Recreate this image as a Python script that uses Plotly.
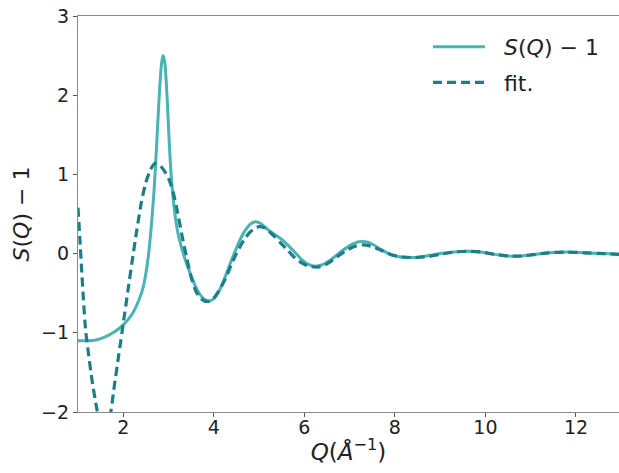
import plotly.graph_objects as go

# Measured structure factor S(Q) - 1
q_sq = [1.0, 1.2, 1.4, 1.6, 1.8, 2.0, 2.2, 2.35, 2.45, 2.55, 2.62, 2.68, 2.74, 2.80,
        2.85, 2.88, 2.92, 2.97, 3.02, 3.07, 3.13, 3.2, 3.3, 3.4, 3.5, 3.6, 3.7, 3.8,
        3.9, 4.0, 4.1, 4.2, 4.3, 4.4, 4.5, 4.6, 4.7, 4.8, 4.9, 5.0, 5.1, 5.2, 5.35,
        5.5, 5.65, 5.8, 5.95, 6.1, 6.25, 6.4, 6.6, 6.8, 7.0, 7.2, 7.35, 7.5, 7.7,
        7.9, 8.1, 8.4, 8.7, 9.0, 9.3, 9.6, 9.9, 10.2, 10.5, 10.8, 11.1, 11.4, 11.8,
        12.2, 12.6, 13.0]
s_minus_1 = [-1.10, -1.10, -1.09, -1.05, -0.99, -0.90, -0.76, -0.58, -0.40, -0.05,
             0.35, 0.80, 1.40, 2.05, 2.42, 2.50, 2.40, 1.95, 1.35, 0.90, 0.55, 0.28,
             0.05, -0.13, -0.28, -0.42, -0.52, -0.58, -0.60, -0.57, -0.49, -0.37,
             -0.22, -0.07, 0.07, 0.20, 0.30, 0.37, 0.40, 0.39, 0.35, 0.30, 0.24, 0.18,
             0.10, 0.01, -0.08, -0.14, -0.16, -0.14, -0.07, 0.02, 0.10, 0.15, 0.15,
             0.12, 0.05, -0.01, -0.04, -0.05, -0.03, 0.00, 0.02, 0.03, 0.02, -0.01,
             -0.03, -0.03, -0.01, 0.01, 0.02, 0.01, 0.00, -0.01]

# Model fit
q_fit = [1.0, 1.04, 1.08, 1.12, 1.17, 1.24, 1.31, 1.42, 1.5, 1.6, 1.7, 1.8, 1.9, 2.0,
         2.1, 2.2, 2.3, 2.4, 2.5, 2.6, 2.7, 2.8, 2.9, 3.0, 3.1, 3.2, 3.3, 3.4, 3.5,
         3.6, 3.7, 3.8, 3.9, 4.0, 4.1, 4.2, 4.3, 4.4, 4.5, 4.6, 4.7, 4.8, 4.9, 5.0,
         5.1, 5.2, 5.35, 5.5, 5.65, 5.8, 5.95, 6.1, 6.3, 6.5, 6.7, 6.9, 7.1, 7.3,
         7.5, 7.7, 7.9, 8.1, 8.4, 8.7, 9.0, 9.3, 9.6, 9.9, 10.2, 10.5, 10.8, 11.1,
         11.4, 11.8, 12.2, 12.6, 13.0]
fit = [0.58, 0.20, -0.20, -0.58, -0.98, -1.30, -1.60, -1.97, -2.15, -2.22, -2.08,
       -1.68, -1.28, -0.88, -0.48, -0.08, 0.30, 0.65, 0.90, 1.06, 1.14, 1.12, 1.05,
       0.95, 0.78, 0.52, 0.22, -0.05, -0.30, -0.47, -0.56, -0.60, -0.60, -0.56,
       -0.48, -0.38, -0.26, -0.12, 0.00, 0.11, 0.20, 0.27, 0.32, 0.34, 0.33, 0.29,
       0.21, 0.12, 0.03, -0.06, -0.12, -0.16, -0.17, -0.13, -0.05, 0.03, 0.09, 0.11,
       0.09, 0.04, -0.01, -0.04, -0.05, -0.04, -0.01, 0.02, 0.03, 0.02, -0.01,
       -0.03, -0.03, -0.01, 0.01, 0.02, 0.01, 0.00, -0.01]

x_ticks = [2, 4, 6, 8, 10, 12]
y_ticks = [-2, -1, 0, 1, 2, 3]

FONT = "DejaVu Sans"
SOLID = "#4ab3b3"
DASHED = "#1f7d88"
PAD = "\u00a0\u00a0"  # extra gap between legend sample and label

fig = go.Figure()
fig.add_trace(go.Scatter(
    x=q_sq, y=s_minus_1, mode="lines", name=PAD + "<i>S</i>(<i>Q</i>) − 1",
    legendgroup="data",
    line=dict(color=SOLID, width=3, shape="spline", smoothing=0.6),
))
fig.add_trace(go.Scatter(
    x=q_fit, y=fit, mode="lines", name=PAD + "fit.",
    legendgroup="fit",
    line=dict(color=DASHED, width=3.2, dash="9px,5px", shape="spline", smoothing=0.6),
))

axis_common = dict(
    showgrid=False, zeroline=False, showline=True, linecolor="#8a8a8a", linewidth=1.2,
    mirror=True, ticks="outside", ticklen=4, tickwidth=1, tickcolor="#555",
    tickfont=dict(family=FONT, size=19, color="#222"),
)

fig.update_layout(
    width=619, height=473,
    margin=dict(l=78, r=0, t=16, b=61),
    paper_bgcolor="white", plot_bgcolor="white",
    font=dict(family=FONT, color="#222"),
    showlegend=True,
    legend=dict(x=0.647, y=0.975, xanchor="left", yanchor="top",
                bgcolor="rgba(0,0,0,0)", font=dict(family=FONT, size=22, color="#222"),
                tracegroupgap=4, itemwidth=52),
    xaxis=dict(range=[1, 12.95], tickvals=x_ticks, ticklabelstandoff=-6,
               title=dict(text="<i>Q</i>(<i>Å</i><sup>−1</sup>)", standoff=6,
                          font=dict(family=FONT, size=23, color="#222")),
               **axis_common),
    yaxis=dict(range=[-2, 3], tickvals=y_ticks,
               title=dict(text="<i>S</i>(<i>Q</i>) − 1", standoff=5,
                          font=dict(family=FONT, size=22, color="#222")),
               **axis_common),
)

fig.write_html("out.html")
